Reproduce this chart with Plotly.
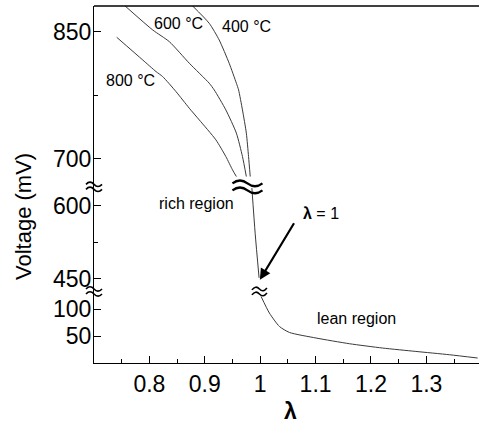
import plotly.graph_objects as go

# ---- data (lambda vs voltage in mV) ----
lam_800 = [0.741, 0.788, 0.812, 0.824, 0.848, 0.872, 0.890, 0.920, 0.938, 0.950, 0.957]
v_800 = [843.4, 816.6, 802.9, 797.0, 779.3, 759.7, 745.9, 722.4, 702.7, 687.0, 679.1]

lam_600 = [0.755, 0.806, 0.836, 0.872, 0.908, 0.917, 0.938, 0.957, 0.968, 0.975]
v_600 = [881.0, 852.0, 838.2, 812.8, 789.2, 781.3, 757.7, 730.3, 702.7, 679.1]

lam_400 = [0.877, 0.908, 0.926, 0.944, 0.957, 0.961, 0.968, 0.975, 0.979, 0.982]
v_400 = [881.0, 859.9, 840.2, 812.8, 789.2, 781.3, 757.7, 730.3, 702.7, 679.1]

lam_mid = [0.985, 0.991, 0.998]
v_mid = [636.4, 542.4, 451.9]

lam_lean = [1.0016, 1.0166, 1.0347, 1.0527, 1.1009, 1.161, 1.221, 1.281, 1.3415, 1.3926]
v_lean = [123.0, 92.7, 68.2, 57.3, 47.1, 36.7, 28.8, 22.6, 16.6, 10.6]

x_ticks = [0.8, 0.9, 1.0, 1.1, 1.2, 1.3]
x_minor = [0.75, 0.85, 0.95, 1.05, 1.15, 1.25, 1.35]
y_top_ticks = [700, 850]
y_top_minor = [775]
y_mid_ticks = [450, 600]
y_mid_minor = [525]
y_bot_ticks = [50, 100]

FONT = "Liberation Sans, Arial, Helvetica, sans-serif"
LINE = dict(color="#3a3a3a", width=1, shape="spline", smoothing=0.6)

fig = go.Figure()
for lx, ly in [(lam_800, v_800), (lam_600, v_600), (lam_400, v_400)]:
    fig.add_trace(go.Scatter(x=lx, y=ly, mode="lines", line=LINE, yaxis="y", showlegend=False, hoverinfo="skip"))
fig.add_trace(go.Scatter(x=lam_mid, y=v_mid, mode="lines", line=LINE, yaxis="y2", showlegend=False, hoverinfo="skip"))
fig.add_trace(go.Scatter(x=lam_lean, y=v_lean, mode="lines", line=LINE, yaxis="y3", showlegend=False, hoverinfo="skip"))

D1, D2 = 0.2004, 0.4934

yax_common = dict(showline=True, linecolor="black", linewidth=1.3, ticks="inside", ticklen=7,
                  tickwidth=1.3, tickcolor="black", showgrid=False, zeroline=False, anchor="x",
                  tickfont=dict(family=FONT, size=23, color="black"), tickmode="array",
                  ticklabelstandoff=-3)

fig.update_layout(
    width=479, height=429,
    margin=dict(l=94, r=0, t=6, b=66),
    paper_bgcolor="white", plot_bgcolor="white",
    xaxis=dict(range=[0.7, 1.395], showline=True, linecolor="black", linewidth=1.3,
               ticks="inside", ticklen=7, tickwidth=1.3, tickcolor="black",
               tickmode="array", tickvals=x_ticks, showgrid=False, zeroline=False,
               anchor="y3", tickfont=dict(family=FONT, size=23, color="black"),
               minor=dict(tickmode="array", tickvals=x_minor, ticks="inside", ticklen=4,
                          tickwidth=1, tickcolor="black", showgrid=False)),
    yaxis=dict(domain=[D2, 1], range=[666.9, 880.3], tickvals=y_top_ticks,
               minor=dict(tickmode="array", tickvals=y_top_minor, ticks="inside", ticklen=4,
                          tickwidth=1, tickcolor="black", showgrid=False), **yax_common),
    yaxis2=dict(domain=[D1, D2], range=[423.9, 639.0], tickvals=y_mid_ticks,
                minor=dict(tickmode="array", tickvals=y_mid_minor, ticks="inside", ticklen=4,
                           tickwidth=1, tickcolor="black", showgrid=False), **yax_common),
    yaxis3=dict(domain=[0, D1], range=[1.5, 132.1], tickvals=y_bot_ticks, **yax_common),
)

# top border line
fig.add_shape(type="line", xref="paper", yref="paper", x0=0, x1=1, y0=1, y1=1,
              line=dict(color="black", width=1.3))

def txt(x, y, s, size=16, xref="x", yref="paper", family=FONT, **kw):
    fig.add_annotation(x=x, y=y, xref=xref, yref=yref, text=s, showarrow=False,
                       xanchor="center", yanchor="middle",
                       font=dict(family=family, size=size, color="black"), **kw)

txt(0.8523, 0.9496, "600 °C")
txt(0.9751, 0.9412, "400 °C")
txt(0.7657, 0.7927, "800 °C")
txt(0.8857, 0.4454, "rich region")
txt(1.1745, 0.1252, "lean region")
txt(1.1105, 0.4174, "<b>λ</b> = 1")

# axis titles
txt(-0.1818, 0.409, "Voltage (mV)", size=22, xref="paper", textangle=-90)
txt(1.0545, -0.1345, "<b>λ</b>", size=23)

# break marks (double tilde) drawn as pixel-sized paths
def tilde_path(w, amp, gap, slope=0.0):
    h = w / 2.0
    parts = []
    for off in (gap / 2.0, -gap / 2.0):
        y0 = off - slope * h
        y1 = off + slope * h
        ym = off
        parts.append(
            f"M {-h:.1f},{y0:.1f} Q {-h/2:.1f},{ym + 2*amp - slope*h/2:.1f} 0,{ym:.1f} "
            f"Q {h/2:.1f},{ym - 2*amp + slope*h/2:.1f} {h:.1f},{y1:.1f}"
        )
    return " ".join(parts)

def brk(xa, ya, xref, w, amp, gap, width, slope=0.0):
    fig.add_shape(type="path", xref=xref, yref="paper", xsizemode="pixel", ysizemode="pixel",
                  xanchor=xa, yanchor=ya, path=tilde_path(w, amp, gap, slope),
                  line=dict(color="black", width=width))

brk(0, D2, "paper", 16, 2.2, 5, 1.6)
brk(0, D1, "paper", 16, 2.2, 5, 1.6)
brk(0.977, D2, "x", 30, 2.8, 7, 2.4)
brk(0.9986, D1, "x", 15, 2.2, 5, 1.6, slope=0.12)

# arrow to lambda = 1
fig.add_annotation(x=0.9995, y=448, xref="x", yref="y2", text="", showarrow=True,
                   ax=35, ay=-58, arrowhead=2, arrowsize=1, arrowwidth=2.2, arrowcolor="black")

fig.write_html("out.html", config={"displayModeBar": False},
               post_script="document.body.style.margin='0';")
